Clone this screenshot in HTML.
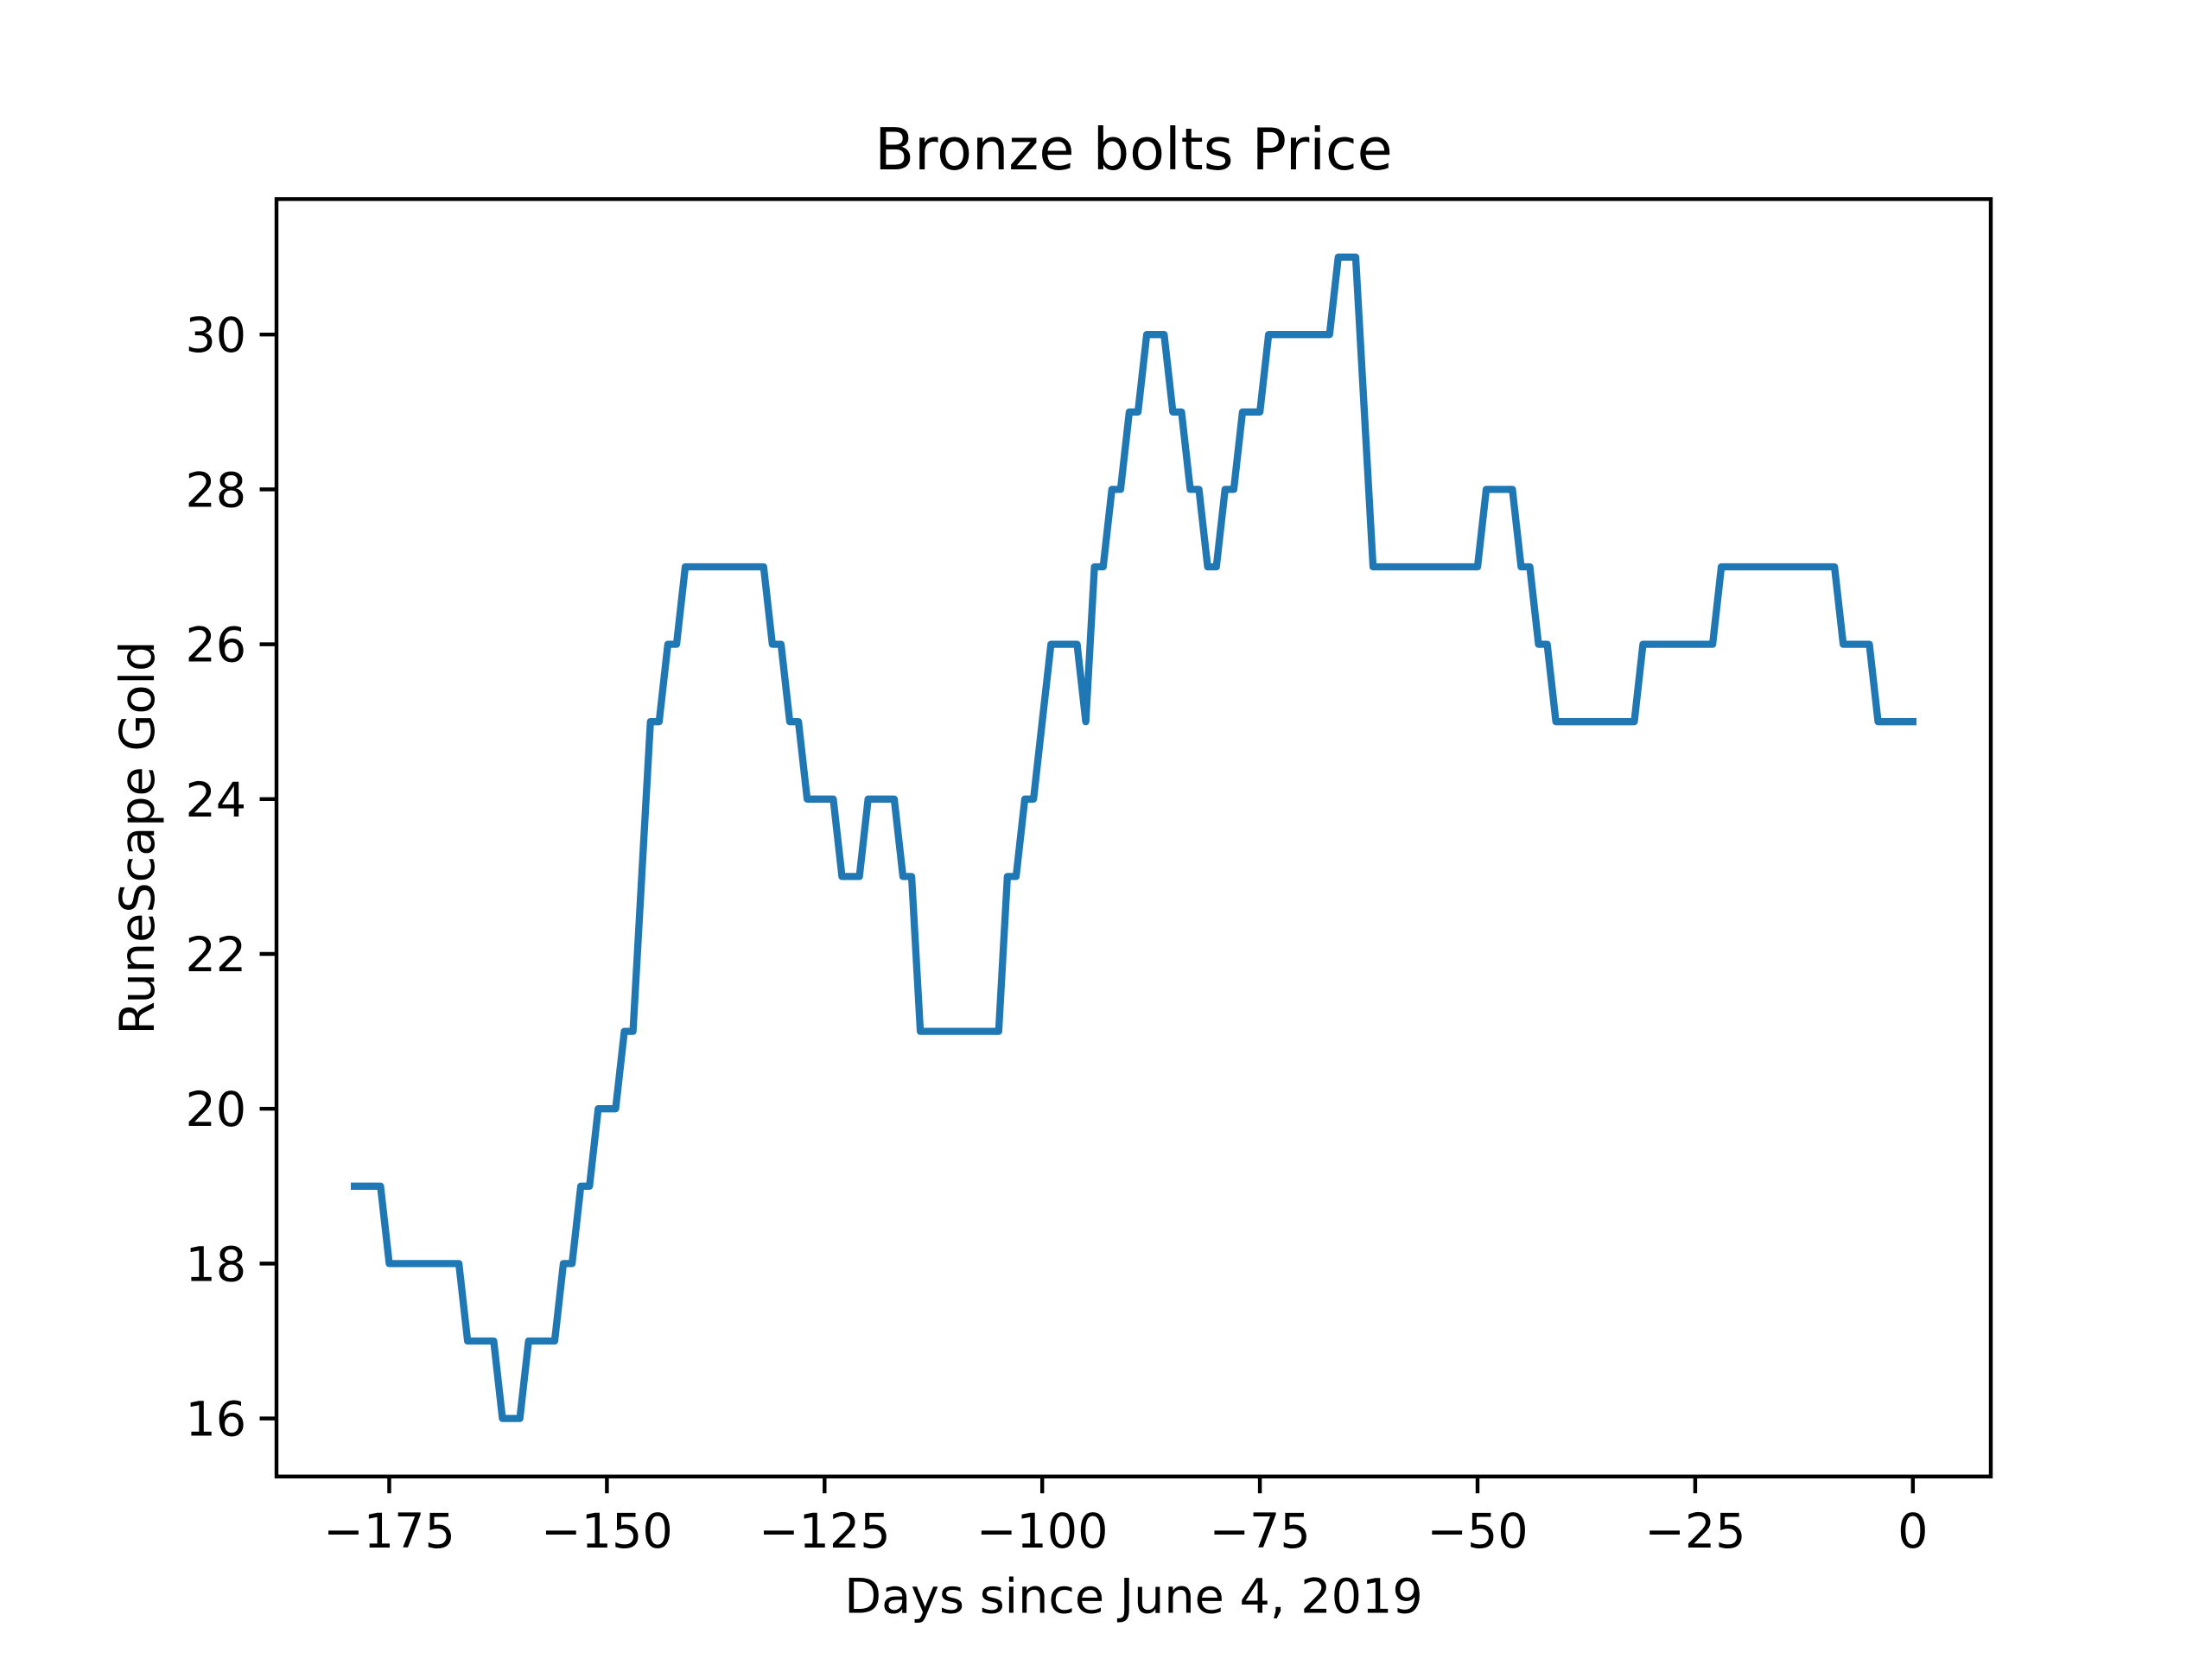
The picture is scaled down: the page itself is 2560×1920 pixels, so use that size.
<!DOCTYPE html>
<html><head><meta charset="utf-8"><style>
html,body{margin:0;padding:0;background:#fff;}
svg{display:block;font-family:"DejaVu Sans","Liberation Sans",sans-serif;}
</style></head><body>
<svg id="chart" width="2560" height="1920" viewBox="0 0 640 480" xmlns="http://www.w3.org/2000/svg">
<rect width="640" height="480" fill="#fff"/>
<text x="328" y="49" font-size="16.7" text-anchor="middle">Bronze bolts Price</text>
<g id="xticks"></g>
<g id="yticks"></g>
<path id="line" fill="none" stroke="#1f77b4" stroke-width="2.08" stroke-linejoin="round" stroke-linecap="square"/>
<rect x="80" y="57.6" width="496" height="369.6" fill="none" stroke="#000" stroke-width="1.11"/>
<text x="328" y="466.6" font-size="13.9" text-anchor="middle">Days since June 4, 2019</text>
<text x="0" y="0" font-size="13.9" text-anchor="middle" transform="translate(44.5,242.4) rotate(-90)">RuneScape Gold</text>
</svg>
<script>
const startDay = -179;
const prices = [19,19,19,19,
18,18,18,18,18,18,18,18,18,
17,17,17,17,
16,16,16,
17,17,17,17,
18,18,
19,19,
20,20,20,
21,21,
23,
25,25,
26,26,
27,27,27,27,27,27,27,27,27,27,
26,26,
25,25,
24,24,24,24,
23,23,23,
24,24,24,24,
23,23,
21,21,21,21,21,21,21,21,21,21,
23,23,
24,24,
25,
26,26,26,26,
25,
27,27,
28,28,
29,29,
30,30,30,
29,29,
28,28,
27,27,
28,28,
29,29,29,
30,30,30,30,30,30,30,30,
31,31,31,
29,
27,27,27,27,27,27,27,27,27,27,27,27,27,
28,28,28,28,
27,27,
26,26,
25,25,25,25,25,25,25,25,25,25,
26,26,26,26,26,26,26,26,26,
27,27,27,27,27,27,27,27,27,27,27,27,27,27,
26,26,26,26,
25,25,25,25,25];
const xTickValues = [-175,-150,-125,-100,-75,-50,-25,0];
const xTickLabels = ["\u2212175","\u2212150","\u2212125","\u2212100","\u221275","\u221250","\u221225","0"];
const yTickValues = [16,18,20,22,24,26,28,30];
const yTickLabels = ["16","18","20","22","24","26","28","30"];

const L=80,R=576,T=57.6,B=427.2;
const xMin=-187.95,xMax=8.95,yMin=15.25,yMax=31.75;
function sx(d){return L+(d-xMin)/(xMax-xMin)*(R-L);}
function sy(v){return B-(v-yMin)/(yMax-yMin)*(B-T);}
const NS="http://www.w3.org/2000/svg";
let d="";
prices.forEach((v,i)=>{d+=(i?"L":"M")+sx(startDay+i).toFixed(2)+","+sy(v).toFixed(2);});
document.getElementById("line").setAttribute("d",d);
const xg=document.getElementById("xticks");
xTickValues.forEach((v,i)=>{
  const ln=document.createElementNS(NS,"line");
  
  
  ln.setAttribute("x1",sx(v));ln.setAttribute("x2",sx(v));ln.setAttribute("y1",B);ln.setAttribute("y2",B+4.86);
  ln.setAttribute("stroke","#000");ln.setAttribute("stroke-width","1.11");
  xg.appendChild(ln);
  const t=document.createElementNS(NS,"text");
  
  
  t.setAttribute("x",sx(v));t.setAttribute("y",447.7);t.setAttribute("font-size","13.9");t.setAttribute("text-anchor","middle");
  t.textContent=xTickLabels[i];xg.appendChild(t);
});
const yg=document.getElementById("yticks");
yTickValues.forEach((v,i)=>{
  const ln=document.createElementNS(NS,"line");
  
  
  ln.setAttribute("x1",L-4.86);ln.setAttribute("x2",L);ln.setAttribute("y1",sy(v));ln.setAttribute("y2",sy(v));
  ln.setAttribute("stroke","#000");ln.setAttribute("stroke-width","1.11");
  yg.appendChild(ln);
  const t=document.createElementNS(NS,"text");
  
  
  t.setAttribute("x",L-8.7);t.setAttribute("y",sy(v)+5);t.setAttribute("font-size","13.9");t.setAttribute("text-anchor","end");
  t.textContent=yTickLabels[i];yg.appendChild(t);
});
</script>
</body></html>
